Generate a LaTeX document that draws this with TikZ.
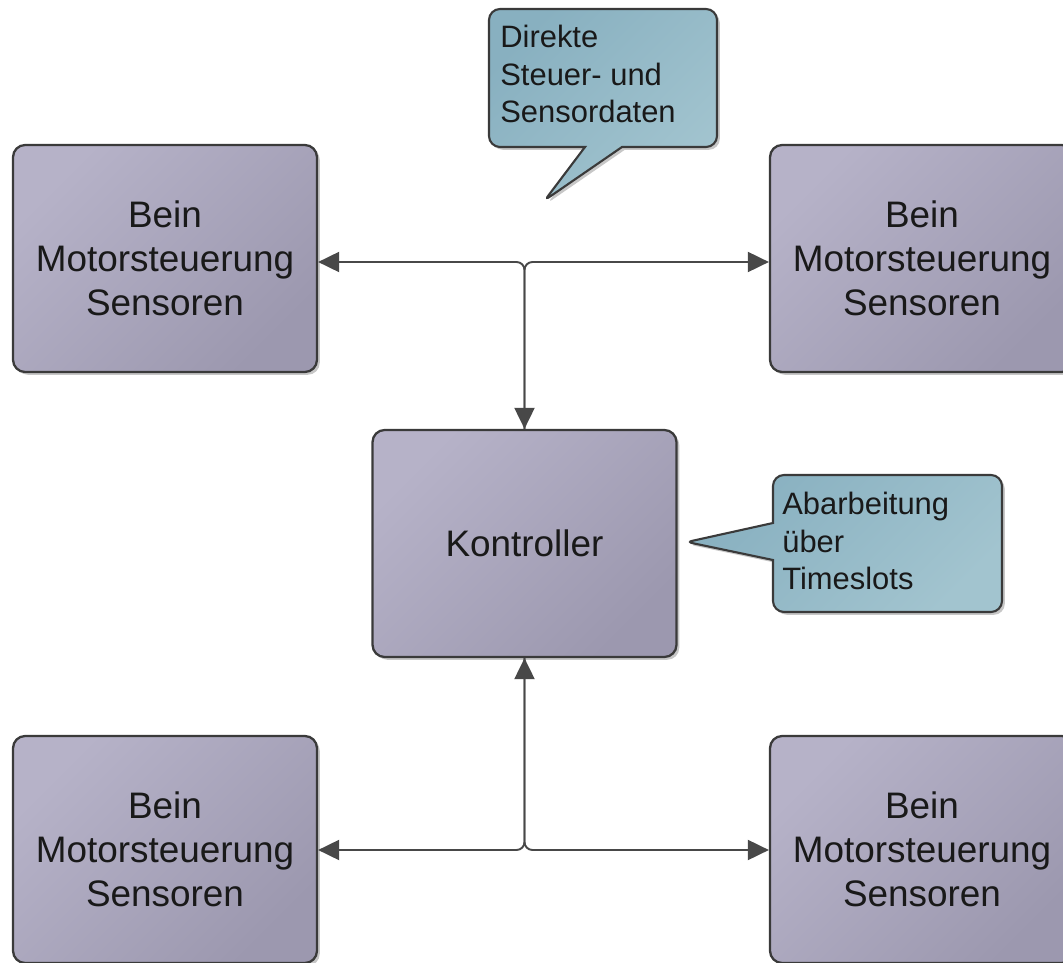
\documentclass[tikz,border=0pt]{standalone}
\usepackage{fontspec}
\setmainfont{Liberation Sans}
\usetikzlibrary{arrows.meta,shadows,calc}

\definecolor{boxlight}{RGB}{182,178,200}
\definecolor{boxdark}{RGB}{156,152,175}
\definecolor{notedeep}{RGB}{136,176,192}
\definecolor{notepale}{RGB}{162,196,207}
\definecolor{edgegray}{RGB}{58,58,58}
\definecolor{wiregray}{RGB}{72,72,72}

\newcommand{\unitfont}{\fontsize{21}{24.9}\selectfont}
\newcommand{\notefont}{\fontsize{17.6}{21.2}\selectfont}

\tikzset{
  softshadow/.style={drop shadow={shadow xshift=1.6pt, shadow yshift=-1.6pt, opacity=0.22, fill=black}},
  unitbox/.style={rectangle, rounded corners=0.24cm, draw=edgegray, line width=1.3pt,
    minimum width=6.08cm, minimum height=4.54cm,
    top color=boxlight, bottom color=boxdark, shading angle=45, softshadow,
    font=\unitfont, align=center, text=black!90, inner sep=0pt},
  notebox/.style={draw=edgegray, line width=1.2pt, top color=notedeep, bottom color=notepale,
    shading angle=45, softshadow},
  notetext/.style={font=\notefont, align=left, anchor=west, inner sep=0pt, text=black!90},
  wire/.style={draw=wiregray, line width=1.1pt},
  arrowin/.style={-{Triangle[length=0.42cm,width=0.40cm]}},
}

\begin{document}
\begin{tikzpicture}[x=0.02cm, y=-0.02cm]
  \useasboundingbox (0,0) rectangle (1063,963);
  \clip (0,0) rectangle (1063,963);

  % leg units and the controller
  \node[unitbox] (TL) at (165,258.5) {Bein\\Motorsteuerung\\Sensoren};
  \node[unitbox] (TR) at (922,258.5) {Bein\\Motorsteuerung\\Sensoren};
  \node[unitbox] (K)  at (524.5,543.5) {Kontroller};
  \node[unitbox] (BL) at (165,849.5) {Bein\\Motorsteuerung\\Sensoren};
  \node[unitbox] (BR) at (922,849.5) {Bein\\Motorsteuerung\\Sensoren};

  % branch points of the bus lines
  \coordinate (jt) at (524.5,262);
  \coordinate (jb) at (524.5,850);

  % upper bus
  \draw[wire, arrowin, rounded corners=0.16cm] (K.north) -- (jt) -- (TL.east |- jt);
  \draw[wire, arrowin, rounded corners=0.16cm] (K.north) -- (jt) -- (TR.west |- jt);
  \draw[wire, arrowin] ($(jt)+(0,8)$) -- (K.north);

  % lower bus
  \draw[wire, arrowin, rounded corners=0.16cm] (K.south) -- (jb) -- (BL.east |- jb);
  \draw[wire, arrowin, rounded corners=0.16cm] (K.south) -- (jb) -- (BR.west |- jb);
  \draw[wire, arrowin] ($(jb)+(0,-8)$) -- (K.south);

  % speech bubble above the upper bus
  \draw[notebox] (660,147) [rounded corners=0.22cm] -- (717,147) -- (717,9) -- (489,9) -- (489,147)
     [rounded corners=0pt] -- (585,147) [rounded corners=3pt] -- (545,200) [rounded corners=0pt] -- (622,147) -- cycle;
  \node[notetext] (n1) at (500,74) {Direkte\\Steuer- und\\Sensordaten};

  % speech bubble beside the controller
  \draw[notebox] (773,590) [rounded corners=0.22cm] -- (773,612) -- (1002,612) -- (1002,475) -- (773,475)
     [rounded corners=0pt] -- (773,523) [rounded corners=3pt] -- (687,542) [rounded corners=0pt] -- (773,560) -- cycle;
  \node[notetext] (n2) at (782,541) {Abarbeitung\\über\\Timeslots};
\end{tikzpicture}
\end{document}
